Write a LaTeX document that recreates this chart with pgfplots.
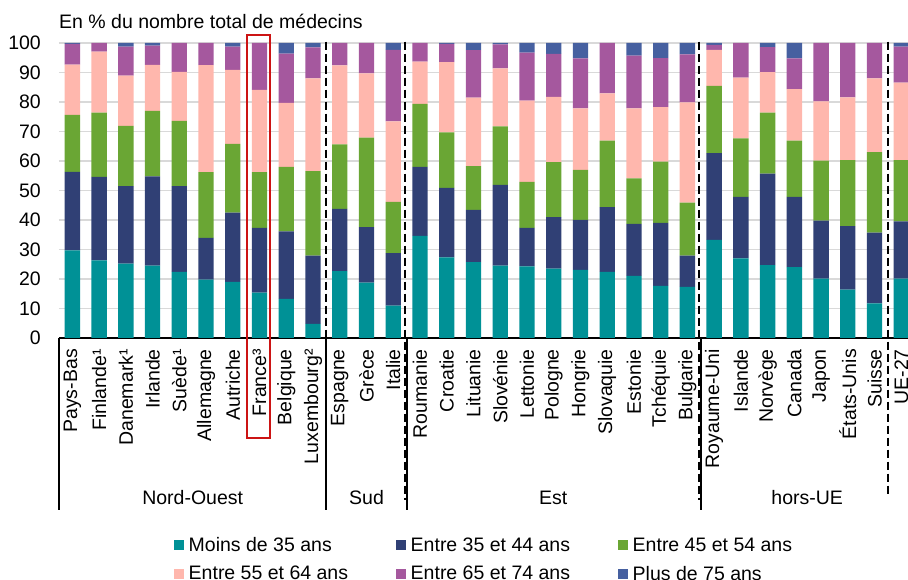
\documentclass[border=0pt]{standalone}
\usepackage{fontspec}
\setmainfont{Liberation Sans}
\usepackage{pgfplots}
\usepackage{pgfplotstable}
\pgfplotsset{compat=1.18}
\definecolor{cA}{RGB}{0,145,150}
\definecolor{cB}{RGB}{48,64,117}
\definecolor{cC}{RGB}{106,166,52}
\definecolor{cD}{RGB}{255,183,173}
\definecolor{cE}{RGB}{165,88,158}
\definecolor{cF}{RGB}{70,96,160}
\definecolor{gridc}{RGB}{217,217,217}
\definecolor{redbox}{RGB}{204,20,20}
\pgfplotsset{sqleg/.style={legend image code/.code={\fill[##1,draw=none] (0pt,-5pt) rectangle (10pt,5pt);}}}

\pgfplotstableread{
x a b c d e f
0 29.7 26.6 19.3 17.1 7.0 0.3
1 26.3 28.3 21.8 20.7 2.9 0
2 25.2 26.3 20.4 17.0 9.9 1.2
3 24.5 30.3 22.2 15.6 6.5 0.9
4 22.4 29.1 22.1 16.6 9.8 0
5 19.8 14.1 22.3 36.3 7.5 0
6 19.0 23.5 23.3 25.1 7.9 1.2
7 15.4 21.9 18.9 27.9 15.9 0
8 13.3 22.8 21.9 21.7 16.7 3.6
9 4.8 23.1 28.7 31.4 10.5 1.5
10 22.7 21.1 21.8 26.8 7.6 0
11 18.8 18.8 30.3 21.8 10.3 0
12 11.0 17.8 17.3 27.3 24.3 2.3
13 34.6 23.4 21.4 14.3 6.3 0
14 27.3 23.6 18.8 23.8 6.2 0.3
15 25.7 17.7 14.9 23.2 16.1 2.4
16 24.5 27.4 19.8 19.7 8.1 0.5
17 24.3 13.0 15.6 27.6 16.2 3.3
18 23.5 17.5 18.6 22.1 14.6 3.7
19 23.1 16.9 17.0 20.8 17.0 5.2
20 22.4 22.0 22.5 16.0 17.1 0
21 21.1 17.6 15.4 23.7 17.9 4.3
22 17.7 21.3 20.8 18.5 16.6 5.1
23 17.3 10.6 18.0 34.0 16.2 3.9
24 33.3 29.4 22.8 12.2 1.7 0.6
25 27.0 20.8 19.9 20.6 11.7 0
26 24.7 31.0 20.7 13.7 8.5 1.4
27 24.0 23.8 19.1 17.5 10.4 5.2
28 20.1 19.7 20.3 20.1 19.8 0
29 16.4 21.5 22.4 21.3 18.4 0
30 11.7 24.0 27.3 25.0 12.0 0
31 20.1 19.4 20.8 26.3 12.2 1.2
}\data

\begin{document}
\begin{tikzpicture}[font=\fontsize{19.5}{23}\selectfont]
\useasboundingbox (0,0) rectangle (908pt,580pt);
\node[anchor=base west, inner sep=0pt] at (59pt,551.7pt) {En \% du nombre total de médecins};
\begin{axis}[
  at={(59pt,242pt)}, anchor=south west,
  scale only axis, width=849pt, height=295pt,
  xmin=-0.5, xmax=31.25, ymin=0, ymax=100,
  ybar stacked, bar width=15.3pt,
  ytick={0,10,...,100},
  xtick={0,...,31},
  xticklabels={Pays-Bas,Finlande¹,Danemark¹,Irlande,Suède¹,Allemagne,Autriche,France³,Belgique,Luxembourg²,Espagne,Grèce,Italie,Roumanie,Croatie,Lituanie,Slovénie,Lettonie,Pologne,Hongrie,Slovaquie,Estonie,Tchéquie,Bulgarie,Royaume-Uni,Islande,Norvège,Canada,Japon,États-Unis,Suisse,UE-27},
  major tick length=0pt,
  axis x line*=bottom, axis y line*=left,
  y axis line style={draw=none},
  x axis line style={line width=2pt, black},
  ymajorgrids, grid style={gridc, line width=1.6pt},
  /pgf/number format/assume math mode=true,
  yticklabel style={inner sep=0pt, xshift=-18pt},
  xticklabel style={yshift=-11pt, rotate=90, anchor=east, inner sep=0pt},
  clip=false,
  legend columns=3,
  legend cell align=left,
  legend style={draw=none, fill=none, inner sep=0pt,
    at={(axis description cs:0.1349,-0.675)}, anchor=north west,
    nodes={inner sep=0pt}, /tikz/column sep=5pt, /tikz/row sep=13pt},
]
\addplot[sqleg, fill=cA, draw=none] table[x=x,y=a] {\data};
\addplot[sqleg, fill=cB, draw=none] table[x=x,y=b] {\data};
\addplot[sqleg, fill=cC, draw=none] table[x=x,y=c] {\data};
\addplot[sqleg, fill=cD, draw=none] table[x=x,y=d] {\data};
\addplot[sqleg, fill=cE, draw=none] table[x=x,y=e] {\data};
\addplot[sqleg, fill=cF, draw=none] table[x=x,y=f] {\data};
\addlegendentry{\makebox[202pt][l]{Moins de 35 ans}}
\addlegendentry{\makebox[202pt][l]{Entre 35 et 44 ans}}
\addlegendentry{\makebox[202pt][l]{Entre 45 et 54 ans}}
\addlegendentry{\makebox[202pt][l]{Entre 55 et 64 ans}}
\addlegendentry{\makebox[202pt][l]{Entre 65 et 74 ans}}
\addlegendentry{\makebox[202pt][l]{Plus de 75 ans}}
% group separators below the axis
\draw[black, line width=2pt] (axis cs:-0.5,0) -- (axis cs:-0.5,-58.3);
\draw[black, line width=2pt] (axis cs:9.5,0) -- (axis cs:9.5,-58.3);
\draw[black, line width=2pt] (axis cs:12.5,0) -- (axis cs:12.5,-58.3);
\draw[black, line width=2pt] (axis cs:23.5,0) -- (axis cs:23.5,-58.3);
% dashed dividers
\draw[black, line width=2pt, dash pattern=on 8pt off 4pt] (axis cs:9.5,100.5) -- (axis cs:9.5,-55);
\draw[black, line width=2pt, dash pattern=on 8pt off 4pt] (axis cs:12.45,100.5) -- (axis cs:12.45,-55);
\draw[black, line width=2pt, dash pattern=on 8pt off 4pt] (axis cs:23.43,100.5) -- (axis cs:23.43,-55);
\draw[black, line width=2pt, dash pattern=on 8pt off 4pt] (axis cs:30.5,100.5) -- (axis cs:30.5,-54);
% highlight France
\draw[redbox, line width=1.6pt] (axis cs:6.53,-33.9) rectangle (axis cs:7.40,102.7);
% group labels
\node at (axis cs:4.5,-54.2) {Nord-Ouest};
\node at (axis cs:11,-54.2) {Sud};
\node at (axis cs:17.98,-54.2) {Est};
\node at (axis cs:27.48,-54.2) {hors-UE};
\end{axis}
\end{tikzpicture}
\end{document}
